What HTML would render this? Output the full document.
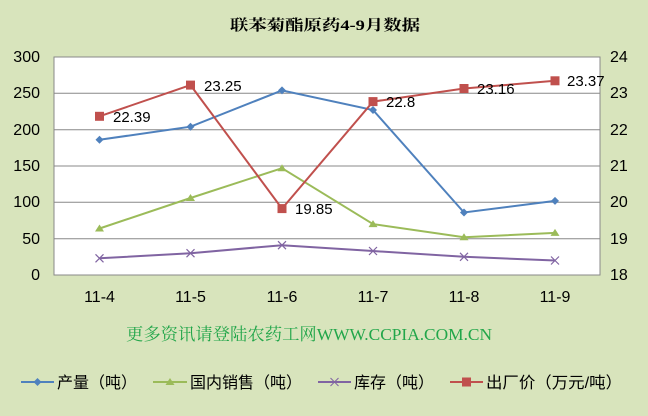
<!DOCTYPE html>
<html><head><meta charset="utf-8"><style>
html,body{margin:0;padding:0;background:#d8e4bc;}
svg{display:block}
text{font-family:"Liberation Sans","Noto Sans CJK SC",sans-serif;}
</style></head><body>
<svg width="648" height="416" viewBox="0 0 648 416" xmlns="http://www.w3.org/2000/svg">
<rect x="0" y="0" width="648" height="416" fill="#d8e4bc"/>
<text x="230" y="30" font-size="15" font-weight="bold" textLength="190" lengthAdjust="spacingAndGlyphs" style="font-family:'Liberation Serif','Noto Serif CJK SC',serif">联苯菊酯原药4-9月数据</text>
<rect x="54" y="57" width="546" height="218" fill="#fff" stroke="#888" stroke-width="1"/>
<g stroke="#888" stroke-width="1">
<line x1="54" y1="93.3" x2="600" y2="93.3"/>
<line x1="54" y1="129.7" x2="600" y2="129.7"/>
<line x1="54" y1="166" x2="600" y2="166"/>
<line x1="54" y1="202.3" x2="600" y2="202.3"/>
<line x1="54" y1="238.7" x2="600" y2="238.7"/>
</g>
<g font-size="16" fill="#000" text-anchor="end">
<text x="40" y="62">300</text><text x="40" y="98">250</text><text x="40" y="135">200</text>
<text x="40" y="171">150</text><text x="40" y="207">100</text><text x="40" y="244">50</text><text x="40" y="280">0</text>
</g>
<g font-size="16" fill="#000" text-anchor="start">
<text x="610" y="62">24</text><text x="610" y="98">23</text><text x="610" y="135">22</text>
<text x="610" y="171">21</text><text x="610" y="207">20</text><text x="610" y="244">19</text><text x="610" y="280">18</text>
</g>
<g font-size="16" text-anchor="middle">
<text x="99.5" y="302">11-4</text><text x="190.5" y="302">11-5</text><text x="282" y="302">11-6</text>
<text x="373" y="302">11-7</text><text x="464" y="302">11-8</text><text x="555" y="302">11-9</text>
</g>
<polyline fill="none" stroke="#4f81bd" stroke-width="2" points="99.5,139.8 190.5,126.7 282,90.4 373,110 464,212.5 555,200.9"/>
<g fill="#4f81bd">
<path d="M99.5,135.8l4,4l-4,4l-4,-4z"/><path d="M190.5,122.7l4,4l-4,4l-4,-4z"/><path d="M282,86.4l4,4l-4,4l-4,-4z"/>
<path d="M373,106l4,4l-4,4l-4,-4z"/><path d="M464,208.5l4,4l-4,4l-4,-4z"/><path d="M555,196.9l4,4l-4,4l-4,-4z"/>
</g>
<polyline fill="none" stroke="#9bbb59" stroke-width="2" points="99.5,228.5 190.5,198 282,168.2 373,224.1 464,237.2 555,232.9"/>
<g fill="#9bbb59">
<path d="M99.5,224.5l4.5,7h-9z"/><path d="M190.5,194l4.5,7h-9z"/><path d="M282,164.2l4.5,7h-9z"/>
<path d="M373,220.1l4.5,7h-9z"/><path d="M464,233.2l4.5,7h-9z"/><path d="M555,228.9l4.5,7h-9z"/>
</g>
<polyline fill="none" stroke="#8064a2" stroke-width="2" points="99.5,258.3 190.5,253.2 282,245.2 373,251 464,256.8 555,260.5"/>
<g stroke="#8064a2" stroke-width="1.2">
<path d="M95.5,254.3l8,8M103.5,254.3l-8,8"/><path d="M186.5,249.2l8,8M194.5,249.2l-8,8"/><path d="M278,241.2l8,8M286,241.2l-8,8"/>
<path d="M369,247l8,8M377,247l-8,8"/><path d="M460,252.8l8,8M468,252.8l-8,8"/><path d="M551,256.5l8,8M559,256.5l-8,8"/>
</g>
<polyline fill="none" stroke="#c0504d" stroke-width="2" points="99.5,116.3 190.5,85.1 282,208.6 373,101.6 464,88.5 555,80.8"/>
<g fill="#c0504d">
<rect x="95" y="111.8" width="9" height="9"/><rect x="186" y="80.6" width="9" height="9"/><rect x="277.5" y="204.1" width="9" height="9"/>
<rect x="368.5" y="97.1" width="9" height="9"/><rect x="459.5" y="84" width="9" height="9"/><rect x="550.5" y="76.3" width="9" height="9"/>
</g>
<g font-size="15" fill="#000">
<text x="113" y="122">22.39</text><text x="204" y="91">23.25</text><text x="295" y="214">19.85</text>
<text x="386" y="107">22.8</text><text x="477" y="94">23.16</text><text x="567" y="86">23.37</text>
</g>
<text x="126" y="340" font-size="17" fill="#22a64a" textLength="366" lengthAdjust="spacingAndGlyphs" style="font-family:'Liberation Serif','Noto Serif CJK SC',serif">更多资讯请登陆农药工网WWW.CCPIA.COM.CN</text>
<g font-size="16" fill="#000">
<line x1="21" y1="382" x2="54" y2="382" stroke="#4f81bd" stroke-width="2"/><path d="M37.5,378l4,4l-4,4l-4,-4z" fill="#4f81bd"/>
<text x="57" y="388" textLength="80" lengthAdjust="spacingAndGlyphs">产量（吨）</text>
<line x1="153" y1="382" x2="187" y2="382" stroke="#9bbb59" stroke-width="2"/><path d="M170,378l4.5,7h-9z" fill="#9bbb59"/>
<text x="190" y="388" textLength="112" lengthAdjust="spacingAndGlyphs">国内销售（吨）</text>
<line x1="318" y1="382" x2="351" y2="382" stroke="#8064a2" stroke-width="2"/><path d="M330.5,378l8,8M338.5,378l-8,8" stroke="#8064a2"/>
<text x="354" y="388" textLength="80" lengthAdjust="spacingAndGlyphs">库存（吨）</text>
<line x1="450" y1="382" x2="483" y2="382" stroke="#c0504d" stroke-width="2"/><rect x="462" y="377.5" width="9" height="9" fill="#c0504d"/>
<text x="486" y="388" textLength="136" lengthAdjust="spacingAndGlyphs">出厂价（万元/吨）</text>
</g>
</svg>
</body></html>
